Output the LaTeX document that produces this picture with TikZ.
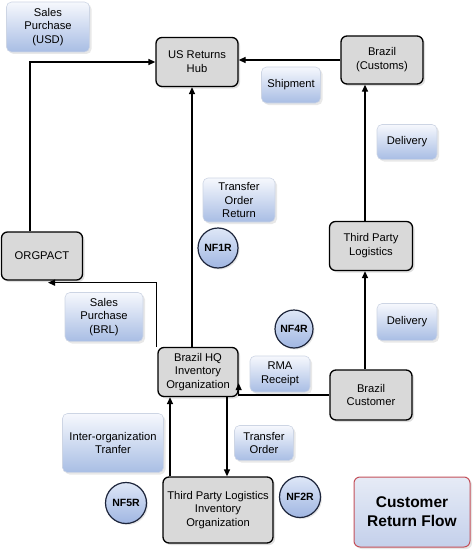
\documentclass[tikz,border=0pt]{standalone}
\usepackage{fontspec}
\setmainfont{Liberation Sans}
\usetikzlibrary{arrows.meta,shadows,calc}
\definecolor{boxgray}{RGB}{217,217,217}
\definecolor{lbltop}{RGB}{246,248,253}
\definecolor{lblbot}{RGB}{168,189,228}
\definecolor{lblline}{RGB}{205,213,228}
\definecolor{circtop}{RGB}{222,231,247}
\definecolor{circbot}{RGB}{160,182,226}
\definecolor{circline}{RGB}{28,36,58}
\definecolor{titleline}{RGB}{196,80,90}
\definecolor{titletop}{RGB}{230,235,246}
\definecolor{titlebot}{RGB}{196,208,235}
\begin{document}
\begin{tikzpicture}[x=1pt,y=-1pt,
  mainbox/.style={draw=black, line width=1.3pt, fill=boxgray, rounded corners=6pt,
    align=center, inner sep=1pt, font=\fontsize{11.2}{13.8}\selectfont,
    drop shadow={opacity=0.25, shadow xshift=2pt, shadow yshift=-2pt}},
  lbl/.style={draw=lblline, line width=0.6pt, top color=lbltop, bottom color=lblbot,
    rounded corners=5pt, align=center, inner sep=1pt, font=\fontsize{11.2}{13.8}\selectfont,
    drop shadow={opacity=0.18, shadow xshift=2pt, shadow yshift=-2pt}},
  nfc/.style={circle, draw=circline, line width=1.2pt, top color=circtop, bottom color=circbot,
    inner sep=0pt, font=\bfseries\fontsize{10.5}{12}\selectfont,
    drop shadow={opacity=0.2, shadow xshift=1.5pt, shadow yshift=-1.5pt}},
  arr/.style={line width=1.3pt, -{Triangle[length=7pt,width=6pt]}},
  sz/.style 2 args={minimum width=#1pt, minimum height=#2pt}
]
\useasboundingbox (0,0) rectangle (474,551);

% main boxes
\node[mainbox, sz={82}{49}] (hub) at (197,62) {US Returns\\Hub};
\node[mainbox, sz={82}{48}] (customs) at (382,60) {Brazil\\(Customs)};
\node[mainbox, sz={81}{48}] (orgpact) at (42,256) {ORGPACT};
\node[mainbox, sz={83}{49}] (tpl) at (371,246) {Third Party\\Logistics};
\node[mainbox, sz={82}{50}] (bcust) at (371,395) {Brazil\\Customer};
\node[mainbox, sz={80}{49}] (hq) at (198,372) {Brazil HQ\\Inventory\\Organization};
\node[mainbox, sz={110}{66}] (tplinv) at (218,510) {Third Party Logistics\\Inventory\\Organization};

% labels
\node[lbl, sz={83}{50}] (salesusd) at (48,27) {Sales\\Purchase\\(USD)};
\node[lbl, sz={59}{36}] (shipment) at (291,85) {Shipment};
\node[lbl, sz={60}{35}] (delivery1) at (407,142) {Delivery};
\node[lbl, sz={72}{44}] (tor) at (239,200) {Transfer\\Order\\Return};
\node[lbl, sz={78}{49}] (salesbrl) at (104,317) {Sales\\Purchase\\(BRL)};
\node[lbl, sz={60}{37}] (delivery2) at (407,322) {Delivery};
\node[lbl, sz={60}{36}] (rma) at (280,374) {RMA\\Receipt};
\node[lbl, sz={101}{59}] (interorg) at (113,443) {Inter-organization\\Tranfer};
\node[lbl, sz={59}{35}] (transord) at (264,443) {Transfer\\Order};

% circles
\node[nfc, minimum size=40pt] (nf1r) at (218,248) {NF1R};
\node[nfc, minimum size=38pt] (nf4r) at (294,329) {NF4R};
\node[nfc, minimum size=41pt] (nf5r) at (126,503) {NF5R};
\node[nfc, minimum size=41pt] (nf2r) at (300,497) {NF2R};

% title
\node[draw=titleline, line width=1pt, top color=titletop, bottom color=titlebot,
  rounded corners=6pt, align=center, minimum width=116pt, minimum height=70pt,
  font=\bfseries\fontsize{15.5}{19}\selectfont,
  drop shadow={opacity=0.2, shadow xshift=2pt, shadow yshift=-2pt}] (title) at (412,512)
  {Customer\\Return Flow};

% connectors
\draw[arr] (customs.west) -- (customs.west -| hub.east);
\draw[arr] ([xshift=-6pt]tpl.north) -- ([xshift=-6pt]tpl.north |- customs.south);
\draw[arr] ([xshift=-6pt]bcust.north) -- ([xshift=-6pt]bcust.north |- tpl.south);
\draw[arr] (bcust.west) -| ($(hq.south east)+(0,-14)$);
\draw[arr] ([xshift=-6pt]hq.north) -- ([xshift=-6pt]hq.north |- hub.south);
\draw[arr] ([xshift=-1pt]hq.north west) |- ($(orgpact.south)+(6,2)$);
\draw[arr] ([xshift=-12pt]orgpact.north) |- (hub.west);
\draw[arr] ([xshift=-48pt]tplinv.north) -- ([xshift=-48pt]tplinv.north |- hq.south);
\draw[arr] ([xshift=29pt]hq.south) -- ([xshift=29pt]hq.south |- tplinv.north);
\end{tikzpicture}
\end{document}
